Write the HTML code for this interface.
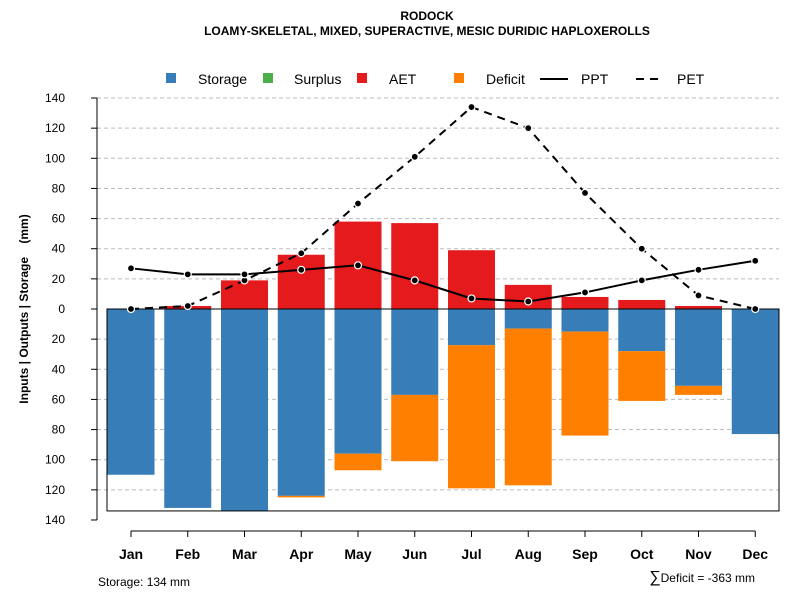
<!DOCTYPE html>
<html><head><meta charset="utf-8"><style>
body{margin:0;background:#fff;font-family:"Liberation Sans",sans-serif}
svg text{font-family:"Liberation Sans",sans-serif}
</style></head><body>
<svg id="c" width="800" height="600" xmlns="http://www.w3.org/2000/svg">
<text x="427" y="20" text-anchor="middle" font-size="12" font-weight="bold">RODOCK</text>
<text x="427" y="35" text-anchor="middle" font-size="12" font-weight="bold">LOAMY-SKELETAL, MIXED, SUPERACTIVE, MESIC DURIDIC HAPLOXEROLLS</text>
<g id="legend">
<rect x="166" y="73" width="10" height="10" fill="#377EB8"/><text x="198" y="84" font-size="14">Storage</text>
<rect x="263" y="73" width="10" height="10" fill="#4DAF4A"/><text x="294" y="84" font-size="14">Surplus</text>
<rect x="357" y="73" width="10" height="10" fill="#E41A1C"/><text x="389" y="84" font-size="14">AET</text>
<rect x="454" y="73" width="10" height="10" fill="#FF7F00"/><text x="486" y="84" font-size="14">Deficit</text>
<line x1="540" y1="79" x2="568" y2="79" stroke="#000" stroke-width="2"/><text x="581" y="84" font-size="14">PPT</text>
<line x1="636" y1="79" x2="662" y2="79" stroke="#000" stroke-width="2" stroke-dasharray="8,6"/><text x="677" y="84" font-size="14">PET</text>
</g>
<g id="grid"></g><g id="bars"></g><g id="lines"></g><g id="axes"></g>
<text x="98" y="586" font-size="12">Storage: 134 mm</text>
<text x="755" y="582" text-anchor="end" font-size="12"><tspan font-size="16">∑</tspan>Deficit = -363 mm</text>
<text transform="translate(28,309) rotate(-90)" text-anchor="middle" font-size="12" font-weight="bold" xml:space="preserve">Inputs | Outputs | Storage    (mm)</text>
</svg>
<script>
const months=["Jan","Feb","Mar","Apr","May","Jun","Jul","Aug","Sep","Oct","Nov","Dec"];
const storage=[110,132,134,124,96,57,24,13,15,28,51,83];
const deficit=[0,0,0,1,11,44,95,104,69,33,6,0];
const aet=[0,2,19,36,58,57,39,16,8,6,2,0];
const ppt=[27,23,23,26,29,19,7,5,11,19,26,32];
const pet=[0,2,19,37,70,101,134,120,77,40,9,0];
const yTicks=[140,120,100,80,60,40,20,0,20,40,60,80,100,120,140];
const ns="http://www.w3.org/2000/svg";
const y0=309,k=1.507;
const yU=v=>y0-v*k, yD=v=>y0+v*k;
const xM=i=>131+i*56.75;
const bw=47;
function mk(t,a,p){const e=document.createElementNS(ns,t);for(const n in a)e.setAttribute(n,a[n]);document.getElementById(p).appendChild(e);return e;}
for(let i=0;i<15;i++){const v=140-i*20;const y=yU(v);const lab=yTicks[i];
 if(v!==0&&y<=511){const g=mk("line",{x1:97,x2:779,y1:y,y2:y,stroke:"#bbb","stroke-dasharray":"4,3"},"grid");}
 mk("line",{x1:91,x2:97,y1:y,y2:y,stroke:"#000"},"axes");
 const t=mk("text",{x:65,y:y+4,"text-anchor":"end","font-size":12},"axes");t.textContent=lab;
 }
mk("line",{x1:97,x2:97,y1:yU(140),y2:yU(-140),stroke:"#000"},"axes");
mk("line",{x1:xM(0),x2:xM(11),y1:531,y2:531,stroke:"#000"},"axes");
months.forEach((m,i)=>{const x=xM(i);
 const s=mk("rect",{x:x-bw/2,y:y0,width:bw,height:storage[i]*k,fill:"#377EB8"},"bars");
 
 if(deficit[i]>0){const d=mk("rect",{x:x-bw/2,y:yD(storage[i]),width:bw,height:deficit[i]*k,fill:"#FF7F00"},"bars");
 }
 if(aet[i]>0){const a=mk("rect",{x:x-bw/2,y:yU(aet[i]),width:bw,height:aet[i]*k,fill:"#E41A1C"},"bars");
 }
 mk("line",{x1:x,x2:x,y1:531,y2:537,stroke:"#000"},"axes");
 const t=mk("text",{x:x,y:559,"text-anchor":"middle","font-size":14,"font-weight":"bold"},"axes");t.textContent=m;
 
});
mk("rect",{x:107,y:y0,width:672,height:134*k,fill:"none",stroke:"#000"},"bars");
function line(arr,dash,name){const pts=arr.map((v,i)=>xM(i)+","+yU(v)).join(" ");
 const p=mk("polyline",{points:pts,fill:"none",stroke:"#000","stroke-width":2,"stroke-dasharray":dash},"lines");
 
 arr.forEach((v,i)=>{const c=mk("circle",{cx:xM(i),cy:yU(v),r:3.5,fill:"#000",stroke:"#fff","stroke-width":1.2},"lines");
 });}
line(pet,"8,6","pet-line");
line(ppt,"none","ppt-line");
</script>
</body></html>
